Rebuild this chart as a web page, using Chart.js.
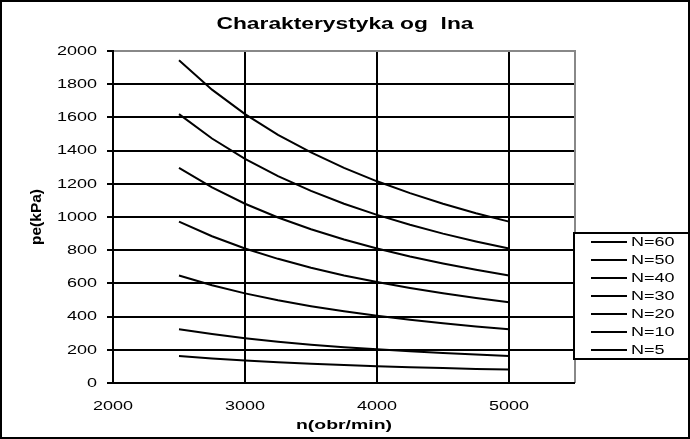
<!DOCTYPE html>
<html><head><meta charset="utf-8">
<script src="https://cdn.jsdelivr.net/npm/chart.js@4/dist/chart.umd.min.js"></script>
<style>html,body{margin:0;padding:0;background:#fff;}#wrap{width:690px;height:439px;position:relative;}</style>
</head><body><div id="wrap"><canvas id="c" width="690" height="439"></canvas></div>
<script>
const rpm = [2500,2750,3000,3250,3500,3750,4000,4250,4500,4750,5000];
const seriesNames = ["N=60","N=50","N=40","N=30","N=20","N=10","N=5"];
const pe60 = [1944,1767,1620,1495,1389,1296,1215,1144,1080,1023,972];
const pe50 = [1620,1473,1350,1246,1157,1080,1013,953,900,853,810];
const pe40 = [1296,1178,1080,997,926,864,810,762,720,682,648];
const pe30 = [972,884,810,748,694,648,608,572,540,512,486];
const pe20 = [648,589,540,498,463,432,405,381,360,341,324];
const pe10 = [324,295,270,249,231,216,203,191,180,171,162];
const pe5  = [162,147,135,125,116,108,101,95,90,85,81];
const allSeries = [pe60,pe50,pe40,pe30,pe20,pe10,pe5];
const xTicks = [2000,3000,4000,5000];
const titleText = "Charakterystyka og  lna";
const xTitle = "n(obr/min)";
const yTitle = "pe(kPa)";

const FONT = "'Liberation Sans', Arial, sans-serif";
const SX = 1.5; // horizontal stretch of text

function txt(ctx, s, x, y, font, sx, align) {
  ctx.save();
  ctx.font = font;
  ctx.textBaseline = 'middle';
  ctx.textAlign = 'left';
  const w = ctx.measureText(s).width * sx;
  let x0 = x;
  if (align === 'center') x0 = x - w / 2;
  else if (align === 'right') x0 = x - w;
  ctx.translate(x0, y);
  ctx.scale(sx, 1);
  ctx.fillText(s, 0, 0);
  ctx.restore();
}

const deco = {
  id:'deco',
  afterDraw(chart){
    const ctx = chart.ctx, a = chart.chartArea;
    const xs = chart.scales.x, ys = chart.scales.y;
    ctx.save();
    ctx.fillStyle = '#000';
    ctx.lineWidth = 2;
    ctx.strokeStyle = '#888';
    ctx.beginPath(); ctx.moveTo(a.left, a.top); ctx.lineTo(a.right, a.top); ctx.lineTo(a.right, a.bottom); ctx.stroke();
    ctx.strokeStyle = '#000';
    ctx.beginPath(); ctx.moveTo(a.left, a.top - 1); ctx.lineTo(a.left, a.bottom); ctx.lineTo(a.right, a.bottom); ctx.stroke();
    ys.ticks.forEach(t => txt(ctx, String(t.value), 97, ys.getPixelForValue(t.value) + 0.5, "12px " + FONT, SX, 'right'));
    xs.ticks.forEach(t => txt(ctx, String(t.value), xs.getPixelForValue(t.value), 407, "12px " + FONT, SX, 'center'));
    ctx.font = "bold 16px " + FONT;
    const tw = ctx.measureText(titleText).width;
    txt(ctx, titleText, 345, 25, "bold 16px " + FONT, 257 / tw, 'center');
    ctx.font = "bold 13px " + FONT;
    const xw = ctx.measureText(xTitle).width;
    txt(ctx, xTitle, 344, 425, "bold 13px " + FONT, 96 / xw, 'center');
    ctx.font = "bold 15px " + FONT;
    const yw = ctx.measureText(yTitle).width;
    ctx.save(); ctx.translate(37, 217); ctx.rotate(-Math.PI/2);
    txt(ctx, yTitle, 0, 0, "bold 15px " + FONT, 56 / yw, 'center');
    ctx.restore();
    ctx.fillStyle = '#fff';
    ctx.fillRect(573, 232, 117, 128);
    ctx.strokeStyle = '#000'; ctx.lineWidth = 2;
    ctx.strokeRect(574, 233, 116, 126);
    ctx.fillStyle = '#000';
    chart.data.datasets.forEach((ds, i) => {
      const y = 242 + i * 18;
      ctx.beginPath(); ctx.moveTo(591, y); ctx.lineTo(627, y); ctx.stroke();
      txt(ctx, ds.label, 631, y + 0.5, "12px " + FONT, SX, 'left');
    });
    ctx.lineWidth = 2; ctx.strokeRect(1, 1, 688, 437);
    ctx.restore();
  }
};

new Chart(document.getElementById('c'), {
  type: 'line',
  data: {
    datasets: allSeries.map((s, i) => ({
      label: seriesNames[i],
      data: s.map((v, j) => ({x: rpm[j], y: v})),
      borderColor: '#000', borderWidth: 2, pointRadius: 0, tension: 0, fill: false
    }))
  },
  options: {
    responsive: false, animation: false,
    layout: {padding: {top: 51, right: 115, left: 0, bottom: 0}},
    plugins: {legend: {display: false}, title: {display: false}, tooltip: {enabled: false}},
    scales: {
      x: {
        type: 'linear', min: 2000, max: 5500,
        afterBuildTicks: ax => { ax.ticks = xTicks.map(v => ({value: v})); },
        afterFit: ax => { ax.height = 56; },
        border: {display: false},
        grid: {color: '#000', lineWidth: 2, drawTicks: false},
        ticks: {display: false}
      },
      y: {
        min: 0, max: 2000,
        afterFit: ax => { ax.width = 113; },
        border: {display: false},
        grid: {color: '#000', lineWidth: 2, tickLength: 6},
        ticks: {stepSize: 200, display: false}
      }
    }
  },
  plugins: [deco]
});
</script></body></html>
